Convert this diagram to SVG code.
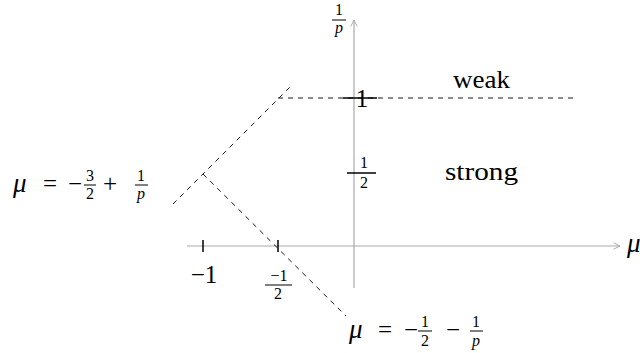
<svg xmlns="http://www.w3.org/2000/svg" width="640" height="353" viewBox="0 0 640 353" font-family="'Liberation Serif', 'Times New Roman', 'Noto Serif', 'DejaVu Serif', serif">
<defs>
<style>
.ax{stroke:#aaaaaa;stroke-width:1.2;fill:none}
.ds{stroke:#000;stroke-width:0.9;stroke-dasharray:5 5;fill:none}
.tk{stroke:#000;stroke-width:1.5}
.fb{stroke:#000;stroke-width:1}
.m{font-size:25px;fill:#000}
.f{font-size:16px;fill:#000}
.i{font-style:italic}
.mu{font-size:27px;font-style:italic;fill:#000}
</style>
<marker id="arr" viewBox="0 0 10 10" refX="9" refY="5" markerWidth="8" markerHeight="8" orient="auto" markerUnits="userSpaceOnUse">
<path d="M1,1 L9,5 L1,9" fill="none" stroke="#aaaaaa" stroke-width="1.2"/>
</marker>
</defs>
<g id="connectors">
<line class="ax" x1="187" y1="246" x2="620" y2="246" marker-end="url(#arr)"/>
<line class="ax" x1="354" y1="288" x2="354" y2="20" marker-end="url(#arr)"/>
<line class="ds" x1="173" y1="204" x2="292" y2="85"/>
<line class="ds" x1="278" y1="98" x2="575" y2="98"/>
<line class="ds" x1="203" y1="174" x2="346" y2="316"/>
</g>
<g id="tick-m1">
<line class="tk" x1="203" y1="240" x2="203" y2="252"/>
<text class="m" x="204" y="283" text-anchor="middle">−1</text>
</g>
<g id="tick-mhalf">
<line class="tk" x1="278" y1="240" x2="278" y2="252"/>
<text class="f" x="279" y="281" text-anchor="middle">−1</text>
<line class="fb" x1="265" y1="285" x2="292" y2="285"/>
<text class="f" x="278" y="299" text-anchor="middle">2</text>
</g>
<g id="tick-1">
<line class="tk" x1="343" y1="98" x2="377" y2="98"/>
<text class="m" x="362" y="107" text-anchor="middle">1</text>
</g>
<g id="tick-half">
<line class="tk" x1="347" y1="173" x2="376" y2="173"/>
<text class="f" x="364" y="168" text-anchor="middle">1</text>
<text class="f" x="364" y="188" text-anchor="middle">2</text>
</g>
<g id="ylabel">
<text class="f" x="339" y="15" text-anchor="middle">1</text>
<line class="fb" x1="332" y1="20" x2="346" y2="20"/>
<text class="f i" x="339" y="33" text-anchor="middle">p</text>
</g>
<g id="xlabel">
<text class="mu" x="627" y="252">μ</text>
</g>
<g id="weak">
<text class="m" x="453" y="88" font-size="26" textLength="57" lengthAdjust="spacingAndGlyphs">weak</text>
</g>
<g id="strong">
<text class="m" x="445" y="180" font-size="26" textLength="73" lengthAdjust="spacingAndGlyphs">strong</text>
</g>
<g id="label-left">
<text class="mu" x="13" y="192">μ</text>
<text class="m" x="50" y="192" text-anchor="middle">=</text>
<text class="m" x="75" y="192" text-anchor="middle">−</text>
<text class="f" x="90" y="181" text-anchor="middle">3</text>
<line class="fb" x1="84" y1="185" x2="96" y2="185"/>
<text class="f" x="90" y="199" text-anchor="middle">2</text>
<text class="m" x="110" y="192" text-anchor="middle">+</text>
<text class="f" x="141" y="181" text-anchor="middle">1</text>
<line class="fb" x1="135" y1="185" x2="148" y2="185"/>
<text class="f i" x="141" y="199" text-anchor="middle">p</text>
</g>
<g id="label-bottom">
<text class="mu" x="349" y="338">μ</text>
<text class="m" x="385" y="338" text-anchor="middle">=</text>
<text class="m" x="411" y="338" text-anchor="middle">−</text>
<text class="f" x="425" y="327" text-anchor="middle">1</text>
<line class="fb" x1="418" y1="331" x2="432" y2="331"/>
<text class="f" x="425" y="346" text-anchor="middle">2</text>
<text class="m" x="453" y="338" text-anchor="middle">−</text>
<text class="f" x="476" y="327" text-anchor="middle">1</text>
<line class="fb" x1="470" y1="331" x2="483" y2="331"/>
<text class="f i" x="476" y="346" text-anchor="middle">p</text>
</g>
</svg>
